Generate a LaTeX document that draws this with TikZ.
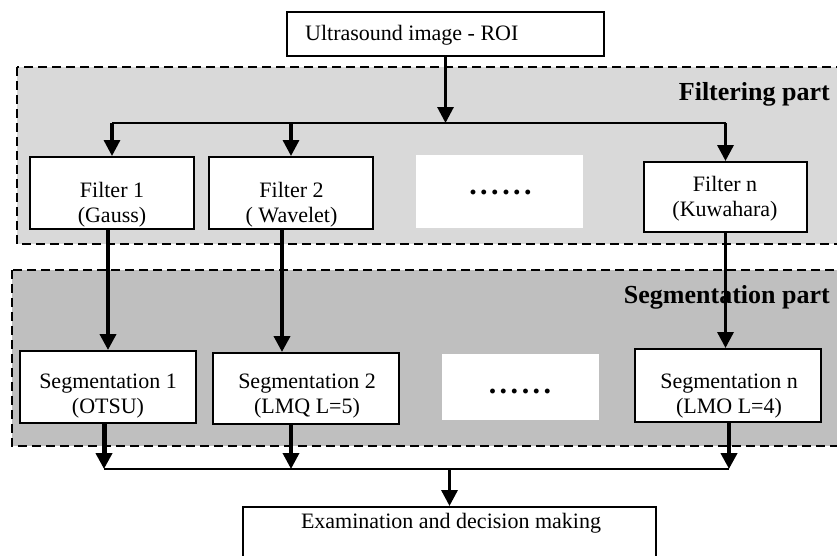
\documentclass[tikz,border=0pt]{standalone}
\usepackage{fontspec}
\setmainfont{Liberation Serif}
\usetikzlibrary{arrows.meta,calc}
\definecolor{filtfill}{RGB}{217,217,217}
\definecolor{segfill}{RGB}{191,191,191}
\newcommand\sixdots{\textbf{.\kern3.5pt.\kern3.5pt.\kern3.5pt.\kern3.5pt.\kern3.5pt.}}
\begin{document}
\begin{tikzpicture}[x=1pt,y=-1pt,
  box/.style={draw=black,line width=2pt,fill=white,inner sep=0pt},
  blank/.style={fill=white,inner sep=0pt},
  txt/.style={font=\fontsize{22}{25}\selectfont,align=center,inner sep=0pt},
  dotstxt/.style={font=\fontsize{30}{32}\selectfont,inner sep=0pt,anchor=base},
  part/.style={font=\fontsize{26}{30}\selectfont\bfseries,inner sep=0pt,anchor=base east},
  region/.style={draw=black,line width=2.6pt,dash pattern=on 9pt off 5pt},
  arr/.style={line width=3.3pt,-{Triangle[width=16pt,length=16pt]}},
  hline/.style={line width=2pt},
  thinline/.style={line width=1.4pt}]
\useasboundingbox (0,0) rectangle (837,555);
\clip (0,0) rectangle (837,555);
\fill[white] (0,0) rectangle (837,555);
% regions
\draw[region,fill=filtfill] (17,67) rectangle (870,244);
\draw[region,fill=segfill] (12,270) rectangle (870,446);
\node[part] (fp) at (830,100) {Filtering part};
\node[part] (sp) at (830,303) {Segmentation part};
% boxes
\node[box,minimum width=317pt,minimum height=44pt] (roi) at (445.5,34) {};
\node[box,minimum width=164pt,minimum height=72pt] (f1) at (112,193) {};
\node[box,minimum width=164pt,minimum height=72pt] (f2) at (291,193) {};
\node[blank,minimum width=167pt,minimum height=73pt] (fd) at (499.5,191.5) {};
\node[box,minimum width=163pt,minimum height=70pt] (fn) at (725.5,197) {};
\node[box,minimum width=176pt,minimum height=72pt] (s1) at (108,387) {};
\node[box,minimum width=186pt,minimum height=71pt] (s2) at (306,388.5) {};
\node[blank,minimum width=157pt,minimum height=66pt] (sd) at (520.5,387) {};
\node[box,minimum width=186pt,minimum height=73pt] (sn) at (728,385.5) {};
\node[box,minimum width=413pt,minimum height=68pt] (exam) at (449.5,541) {};
% texts
\node[txt,anchor=base west] (roit) at (305,40) {Ultrasound image - ROI};
\node[txt] (f1t) at (112,204.5) {\strut Filter 1\\\strut(Gauss)};
\node[txt] (f2t) at (291.5,204.5) {\strut Filter 2\\\strut( Wavelet)};
\node[txt] (fnt) at (725,198.5) {\strut Filter n\\\strut(Kuwahara)};
\node[dotstxt] (fdt) at (500.5,194.5) {\sixdots};
\node[txt] (s1t) at (108,395.5) {\strut Segmentation 1\\\strut(OTSU)};
\node[txt] (s2t) at (307,395.5) {\strut Segmentation 2\\\strut(LMQ L=5)};
\node[txt] (snt) at (729,395.5) {\strut Segmentation n\\\strut(LMO L=4)};
\node[dotstxt] (sdt) at (520,393.5) {\sixdots};
\node[txt,anchor=base] (examt) at (451,528) {Examination and decision making};
% helper coordinates
\coordinate (jt) at (0,123);
\coordinate (jb) at (0,469);
\coordinate (c2) at (282,0);
\coordinate (b1) at (104,0);
\coordinate (b2) at (291,0);
\coordinate (b3) at (729,0);
% top distribution
\draw[arr,line width=3pt] (roi.south) -- (roi.south |- jt);
\draw[hline] (f1.north |- jt) -- (fn.north |- jt);
\draw[arr] (f1.north |- jt) -- (f1.north);
\draw[arr] (f2.north |- jt) -- (f2.north);
\draw[arr] (fn.north |- jt) -- (fn.north);
% filters to segmentations
\draw[arr,line width=3.8pt] (f1.south -| s1.north) -- (s1.north);
\draw[arr,line width=3.8pt] (c2 |- f2.south) -- (c2 |- s2.north);
\draw[arr] (fn.south) -- (fn.south |- sn.north);
% segmentations to decision
\draw[arr,line width=5pt] (b1 |- s1.south) -- (b1 |- jb);
\draw[arr,line width=3.5pt] (b2 |- s2.south) -- (b2 |- jb);
\draw[arr,line width=4.5pt] (b3 |- sn.south) -- (b3 |- jb);
\draw[thinline] (b1 |- jb) -- (b3 |- jb);
\draw[arr] (exam.north |- jb) -- (exam.north);
\end{tikzpicture}
\end{document}
